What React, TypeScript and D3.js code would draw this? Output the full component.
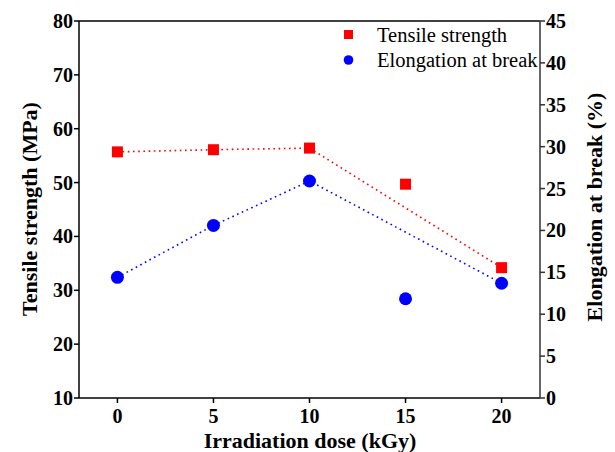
import React from "react";
import * as d3 from "d3";

const doses = [0, 5, 10, 15, 20];
const tensile = [55.7, 56.1, 56.4, 49.7, 34.2];
const elongation = [14.4, 20.6, 25.9, 11.85, 13.7];
const lineDoses = [0, 5, 10, 20];
const xTicks = [0, 5, 10, 15, 20];
const leftTicks = [10, 20, 30, 40, 50, 60, 70, 80];
const rightTicks = [0, 5, 10, 15, 20, 25, 30, 35, 40, 45];

const W = 615, H = 452;
const L = 79, R = 540, T = 21, B = 398;
const FONT = "'Liberation Serif', 'Times New Roman', serif";

export default function App() {
  const x = d3.scaleLinear().domain([-2, 22]).range([L, R]);
  const yL = d3.scaleLinear().domain([10, 80]).range([B, T]);
  const yR = d3.scaleLinear().domain([0, 45]).range([B, T]);

  const tPts = doses.map((d, i) => ({ d, v: tensile[i] }));
  const ePts = doses.map((d, i) => ({ d, v: elongation[i] }));
  const lineT = d3.line<{ d: number; v: number }>().x(p => x(p.d)).y(p => yL(p.v));
  const lineE = d3.line<{ d: number; v: number }>().x(p => x(p.d)).y(p => yR(p.v));
  const tLine = tPts.filter(p => lineDoses.includes(p.d));
  const eLine = ePts.filter(p => lineDoses.includes(p.d));

  const sq = 11;
  const tickFs = 20;
  const titleFs = 22;
  return (
    <svg width={W} height={H} style={{ position: "absolute", left: 0, top: 0, background: "#fff" }}>
      <rect x={0} y={0} width={W} height={H} fill="#fff" />
      <path d={lineT(tLine) || ""} fill="none" stroke="#ff0000" strokeWidth={1.6} strokeDasharray="1.6,3.6" />
      <path d={lineE(eLine) || ""} fill="none" stroke="#0000ff" strokeWidth={1.6} strokeDasharray="1.6,3.6" />
      {tPts.map((p, i) => (
        <rect key={"t" + i} x={x(p.d) - sq / 2} y={yL(p.v) - sq / 2} width={sq} height={sq} fill="#ff0000" />
      ))}
      {ePts.map((p, i) => (
        <circle key={"e" + i} cx={x(p.d)} cy={yR(p.v)} r={6.5} fill="#0000ff" />
      ))}
      <line x1={L} x2={R} y1={T} y2={T} stroke="#000" strokeWidth={1.5} />
      <line x1={L} x2={R} y1={B} y2={B} stroke="#000" strokeWidth={1.5} />
      <line x1={L} x2={L} y1={T} y2={B} stroke="#000" strokeWidth={1.5} />
      <line x1={R} x2={R} y1={T} y2={B} stroke="#333" strokeWidth={1.5} />
      {xTicks.map(t => (
        <g key={"x" + t}>
          <line x1={x(t)} x2={x(t)} y1={B} y2={B + 5} stroke="#000" strokeWidth={1.5} />
          <text x={x(t)} y={B + 25} textAnchor="middle" fontFamily={FONT} fontSize={tickFs} fontWeight="bold">{t}</text>
        </g>
      ))}
      {leftTicks.map(t => (
        <g key={"l" + t}>
          <line x1={L - 5} x2={L} y1={yL(t)} y2={yL(t)} stroke="#000" strokeWidth={1.5} />
          <text x={L - 6} y={yL(t) + 7} textAnchor="end" fontFamily={FONT} fontSize={tickFs} fontWeight="bold">{t}</text>
        </g>
      ))}
      {rightTicks.map(t => (
        <g key={"r" + t}>
          <line x1={R} x2={R + 5} y1={yR(t)} y2={yR(t)} stroke="#333" strokeWidth={1.5} />
          <text x={R + 6} y={yR(t) + 7} textAnchor="start" fontFamily={FONT} fontSize={tickFs} fontWeight="bold">{t}</text>
        </g>
      ))}
      <text x={310} y={448} textAnchor="middle" fontFamily={FONT} fontSize={titleFs} fontWeight="bold">Irradiation dose (kGy)</text>
      <text transform={`translate(37,209) rotate(-90)`} textAnchor="middle" fontFamily={FONT} fontSize={titleFs} fontWeight="bold">Tensile strength (MPa)</text>
      <text transform={`translate(602,207) rotate(-90)`} textAnchor="middle" fontFamily={FONT} fontSize={titleFs} fontWeight="bold">Elongation at break (%)</text>
      <rect x={344} y={30} width={9} height={9} fill="#ff0000" />
      <text x={377} y={42} fontFamily={FONT} fontSize={20.5}>Tensile strength</text>
      <circle cx={348.5} cy={60} r={4.8} fill="#0000ff" />
      <text x={377} y={67} fontFamily={FONT} fontSize={20.5}>Elongation at break</text>
    </svg>
  );
}
